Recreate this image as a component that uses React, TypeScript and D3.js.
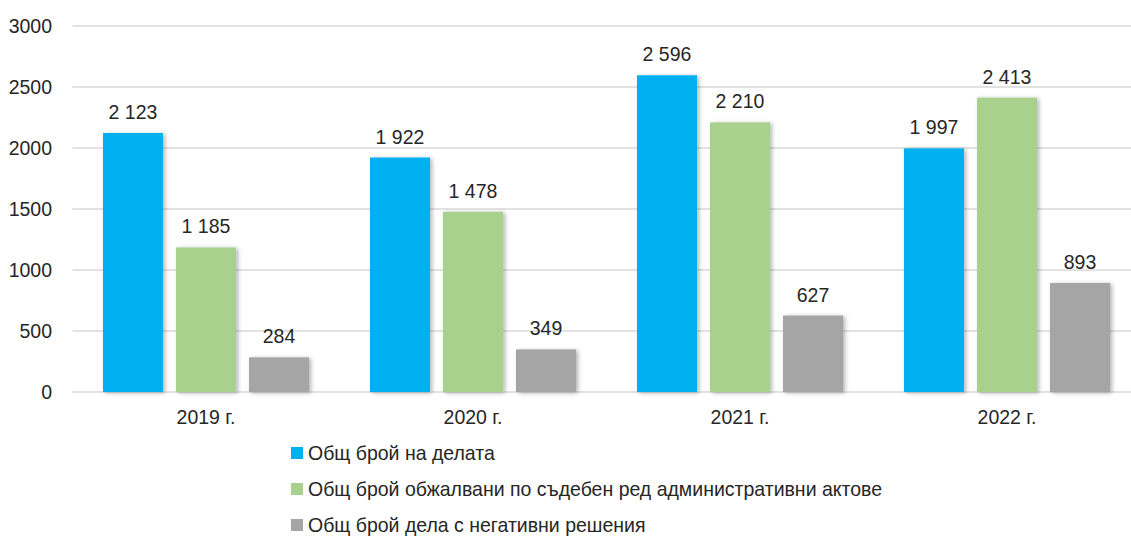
import React, { useEffect, useRef } from 'react';
import * as d3 from 'd3';

// chart data
const years = ['2019 г.', '2020 г.', '2021 г.', '2022 г.'];
const seriesNames = [
  'Общ брой на делата',
  'Общ брой обжалвани по съдебен ред административни актове',
  'Общ брой дела с негативни решения',
];
const totalCases = [2123, 1922, 2596, 1997];
const appealedActs = [1185, 1478, 2210, 2413];
const negativeCases = [284, 349, 627, 893];
const yTicks = [0, 500, 1000, 1500, 2000, 2500, 3000];
const colors = ['#00B0F0', '#A9D18E', '#A5A5A5'];

const App = () => {
  const ref = useRef<SVGSVGElement | null>(null);

  useEffect(() => {
    if (!ref.current) return;
    const svg = d3.select(ref.current);
    svg.selectAll('*').remove();

    const font = '"Liberation Sans", Arial, sans-serif';
    const textColor = '#262626';
    const fs = 19.5;
    const sy = 1.08; // text in the reference is slightly taller than wide
    const values = [totalCases, appealedActs, negativeCases];

    const x0 = d3.scaleBand<string>().domain(years).range([72.5, 1140.5]);
    const x1 = d3.scaleBand<number>().domain([0, 1, 2]).range([30.5, 236.5]).paddingInner(0.178);
    const y = d3.scaleLinear().domain([0, 3000]).range([392, 26]);

    const fmt = d3.formatLocale({ decimal: ',', thousands: ' ', grouping: [3], currency: ['', ''] }).format(',d');

    // shadow under the bars
    const defs = svg.append('defs');
    const f = defs.append('filter').attr('id', 'shadow').attr('x', '-20%').attr('y', '-20%').attr('width', '140%').attr('height', '140%');
    f.append('feDropShadow').attr('dx', 2).attr('dy', 1).attr('stdDeviation', 2).attr('flood-color', '#000').attr('flood-opacity', 0.3);

    // gridlines
    svg.append('g')
      .selectAll('line')
      .data(yTicks)
      .join('line')
      .attr('x1', 72.5)
      .attr('x2', 1131)
      .attr('y1', d => y(d))
      .attr('y2', d => y(d))
      .attr('stroke', '#D9D9D9')
      .attr('stroke-width', 1.3);

    // y labels
    svg.append('g')
      .selectAll('text')
      .data(yTicks)
      .join('text')
      .attr('transform', d => `translate(52,${y(d)}) scale(1,${sy})`)
      .attr('dy', '0.35em')
      .attr('text-anchor', 'end')
      .attr('font-family', font)
      .attr('font-size', fs)
      .attr('fill', textColor)
      .text(d => String(d));

    // bars
    const groups = svg.append('g')
      .selectAll('g')
      .data(years)
      .join('g')
      .attr('transform', d => `translate(${x0(d)},0)`);

    groups.selectAll('rect')
      .data((_, i) => values.map((s, k) => ({ k, v: s[i] })))
      .join('rect')
      .attr('x', d => x1(d.k)!)
      .attr('width', x1.bandwidth())
      .attr('y', d => y(d.v))
      .attr('height', d => y(0) - y(d.v))
      .attr('fill', d => colors[d.k])
      .attr('filter', 'url(#shadow)');

    groups.selectAll('text.val')
      .data((_, i) => values.map((s, k) => ({ k, v: s[i] })))
      .join('text')
      .attr('class', 'val')
      .attr('transform', d => `translate(${x1(d.k)! + x1.bandwidth() / 2},${y(d.v) - 14}) scale(1,${sy})`)
      .attr('text-anchor', 'middle')
      .attr('font-family', font)
      .attr('font-size', fs)
      .attr('fill', textColor)
      .text(d => fmt(d.v));

    // x labels
    svg.append('g')
      .selectAll('text')
      .data(years)
      .join('text')
      .attr('transform', d => `translate(${x0(d)! + x0.bandwidth() / 2},424) scale(1,${sy})`)
      .attr('text-anchor', 'middle')
      .attr('font-family', font)
      .attr('font-size', fs)
      .attr('fill', textColor)
      .text(d => d);

    // legend
    const legend = svg.append('g')
      .selectAll('g')
      .data(seriesNames)
      .join('g')
      .attr('transform', (_, i) => `translate(291,${453 + i * 36})`);
    legend.append('rect')
      .attr('x', 0)
      .attr('y', -6)
      .attr('width', 12)
      .attr('height', 12)
      .attr('fill', (_, i) => colors[i]);
    legend.append('text')
      .attr('transform', `translate(17,0) scale(1,${sy})`)
      .attr('dy', '0.35em')
      .attr('font-family', font)
      .attr('font-size', fs)
      .attr('fill', textColor)
      .text(d => d);
  }, []);

  return (
    <svg
      ref={ref}
      width={1131}
      height={536}
      style={{ position: 'absolute', left: 0, top: 0, background: '#fff' }}
    ></svg>
  );
};

export default App;
